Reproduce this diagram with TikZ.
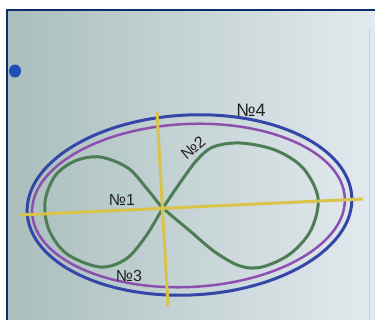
\documentclass[tikz,border=0pt]{standalone}
\usepackage{fontspec}
\setmainfont{Liberation Sans}
\definecolor{boardL}{HTML}{A9BEBD}
\definecolor{boardM}{HTML}{DCE6EA}
\definecolor{boardR}{HTML}{E3EAEF}
\definecolor{navy}{HTML}{0C2D6B}
\definecolor{outerblue}{HTML}{3446A8}
\definecolor{innerpurple}{HTML}{8D4FAE}
\definecolor{loopgreen}{HTML}{4D7D55}
\definecolor{axisyellow}{HTML}{D9C34A}
\definecolor{labelgray}{HTML}{222222}
\definecolor{dotblue}{HTML}{1F4FB5}
\definecolor{faint}{HTML}{C9D2D8}
\begin{document}
\begin{tikzpicture}[x=1pt,y=-1pt,
  lbl/.style={text=labelgray, font=\fontsize{16}{16}\selectfont, inner sep=0pt},
  axisline/.style={draw=axisyellow, line width=3pt},
  curveline/.style={line width=3pt}]
\useasboundingbox (0,0) rectangle (375,320);
\fill[white] (0,0) rectangle (375,320);
% board
\shade[left color=boardL, middle color=boardM, right color=boardR] (7,10) rectangle (375,320);
\draw[faint, line width=0.8pt] (369,30) -- (369,320);
\draw[navy, line width=2pt] (7,320) -- (7,10) -- (375,10);
\fill[dotblue] (15,71) ellipse [x radius=6pt, y radius=6.5pt];
% ellipses
\draw[outerblue, curveline, rotate around={2.8:(189.5,205)}] (189.5,205) ellipse [x radius=162.5, y radius=90];
\draw[innerpurple, line width=2.5pt, rotate around={2.8:(188.5,205.5)}] (188.5,205.5) ellipse [x radius=156.5, y radius=81.5];
% figure eight
\draw[loopgreen, curveline] plot[smooth cycle, tension=0.55] coordinates {
  (163,208) (182,180) (197,160) (213,147) (240,143) (275,150) (303,168) (318,198)
  (311,230) (290,254) (262,267) (240,266) (215,252) (190,231)
  (163,208) (148,190) (128,168) (100,157) (75,161) (55,176) (45,202)
  (49,230) (67,254) (100,267) (126,259) (146,236)};
% axes
\coordinate (hL) at (20,215);
\coordinate (hR) at (363,199);
\coordinate (vT) at (157,112);
\coordinate (vB) at (168,306);
\draw[axisline] (hL) -- (hR);
\draw[axisline] (vT) -- (vB);
% labels
\node[lbl, font=\fontsize{18}{18}\selectfont] (n4) at (251,110) {№4};
\node[lbl, rotate=40] (n2) at (193,148) {№2};
\node[lbl] (n1) at (122,200) {№1};
\node[lbl] (n3) at (129,276) {№3};
\end{tikzpicture}
\end{document}
